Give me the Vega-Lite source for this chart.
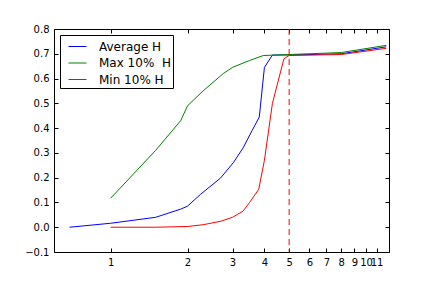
{
  "$schema": "https://vega.github.io/schema/vega-lite/v6.json",
  "width": 335,
  "height": 223,
  "autosize": "none",
  "padding": {"left": 54, "top": 29, "right": 43, "bottom": 36},
  "background": "white",
  "config": {
    "font": "DejaVu Sans",
    "view": {"stroke": "black", "strokeWidth": 1},
    "axis": {"grid": false, "domain": false, "tickColor": "black", "labelColor": "black", "labelFontSize": 10, "labelFont": "DejaVu Sans", "title": null, "labelOverlap": false}
  },
  "datasets": {
    "series": [
      {"x": 0.69, "y": 0.0, "s": "Average H"},
      {"x": 1.0, "y": 0.016, "s": "Average H"},
      {"x": 1.5, "y": 0.04, "s": "Average H"},
      {"x": 1.88, "y": 0.073, "s": "Average H"},
      {"x": 2.0, "y": 0.085, "s": "Average H"},
      {"x": 2.25, "y": 0.133, "s": "Average H"},
      {"x": 2.69, "y": 0.198, "s": "Average H"},
      {"x": 3.02, "y": 0.26, "s": "Average H"},
      {"x": 3.3, "y": 0.32, "s": "Average H"},
      {"x": 3.58, "y": 0.39, "s": "Average H"},
      {"x": 3.82, "y": 0.445, "s": "Average H"},
      {"x": 4.0, "y": 0.645, "s": "Average H"},
      {"x": 4.3, "y": 0.695, "s": "Average H"},
      {"x": 5.0, "y": 0.695, "s": "Average H"},
      {"x": 8.0, "y": 0.70, "s": "Average H"},
      {"x": 12.0, "y": 0.728, "s": "Average H"},
      {"x": 1.0, "y": 0.117, "s": "Max 10% \u00a0H"},
      {"x": 1.5, "y": 0.31, "s": "Max 10% \u00a0H"},
      {"x": 1.88, "y": 0.43, "s": "Max 10% \u00a0H"},
      {"x": 2.0, "y": 0.49, "s": "Max 10% \u00a0H"},
      {"x": 2.3, "y": 0.55, "s": "Max 10% \u00a0H"},
      {"x": 2.76, "y": 0.62, "s": "Max 10% \u00a0H"},
      {"x": 3.0, "y": 0.645, "s": "Max 10% \u00a0H"},
      {"x": 3.5, "y": 0.673, "s": "Max 10% \u00a0H"},
      {"x": 3.96, "y": 0.693, "s": "Max 10% \u00a0H"},
      {"x": 5.0, "y": 0.697, "s": "Max 10% \u00a0H"},
      {"x": 8.0, "y": 0.705, "s": "Max 10% \u00a0H"},
      {"x": 12.0, "y": 0.734, "s": "Max 10% \u00a0H"},
      {"x": 1.0, "y": 0.0, "s": "Min 10% H"},
      {"x": 1.5, "y": 0.0, "s": "Min 10% H"},
      {"x": 2.0, "y": 0.003, "s": "Min 10% H"},
      {"x": 2.3, "y": 0.01, "s": "Min 10% H"},
      {"x": 2.7, "y": 0.024, "s": "Min 10% H"},
      {"x": 3.0, "y": 0.04, "s": "Min 10% H"},
      {"x": 3.3, "y": 0.065, "s": "Min 10% H"},
      {"x": 3.5, "y": 0.1, "s": "Min 10% H"},
      {"x": 3.8, "y": 0.153, "s": "Min 10% H"},
      {"x": 4.0, "y": 0.27, "s": "Min 10% H"},
      {"x": 4.3, "y": 0.5, "s": "Min 10% H"},
      {"x": 4.77, "y": 0.68, "s": "Min 10% H"},
      {"x": 5.0, "y": 0.693, "s": "Min 10% H"},
      {"x": 8.0, "y": 0.697, "s": "Min 10% H"},
      {"x": 12.0, "y": 0.722, "s": "Min 10% H"}
    ],
    "marker": [{"x": 5}]
  },
  "layer": [
    {
      "data": {"name": "series"},
      "mark": {"type": "line", "strokeWidth": 1, "clip": true},
      "encoding": {
        "x": {"field": "x", "type": "quantitative",
              "scale": {"type": "log", "domain": [0.6, 12.3], "nice": false},
              "axis": {"orient": "bottom", "values": [1,2,3,4,5,6,7,8,9,10,11], "format": "d", "tickSize": -4, "labelPadding": 9, "labelOverlap": false}},
        "y": {"field": "y", "type": "quantitative",
              "scale": {"domain": [-0.1, 0.8], "nice": false, "zero": false},
              "axis": {"orient": "left", "values": [-0.1,0,0.1,0.2,0.3,0.4,0.5,0.6,0.7,0.8], "format": ".1f", "tickSize": -4, "labelPadding": 9, "labelOverlap": false}},
        "color": {"field": "s", "type": "nominal",
                  "scale": {"domain": ["Average H", "Max 10% \u00a0H", "Min 10% H"], "range": ["#0000ff", "#008000", "#ff0000"]},
                  "legend": {"title": null, "orient": "none", "legendX": 6, "legendY": 6, "symbolType": "stroke", "symbolSize": 324, "symbolStrokeWidth": 1, "symbolOffset": 6, "labelFontSize": 12, "labelFont": "DejaVu Sans", "labelColor": "black", "labelOffset": 12, "padding": 2, "rowPadding": 0.5, "strokeColor": "black", "fillColor": "white", "cornerRadius": 0}}
      }
    },
    {
      "data": {"name": "marker"},
      "mark": {"type": "rule", "color": "#ff0000", "strokeWidth": 1, "strokeDash": [6, 4]},
      "encoding": {
        "x": {"field": "x", "type": "quantitative",
              "axis": {"orient": "top", "values": [1,2,3,4,5,6,7,8,9,10,11], "labels": false, "tickSize": -4}}
      }
    },
    {
      "data": {"name": "series"},
      "mark": {"type": "point", "opacity": 0},
      "encoding": {
        "x": {"field": "x", "type": "quantitative", "axis": null},
        "y": {"field": "y", "type": "quantitative",
              "axis": {"orient": "right", "values": [-0.1,0,0.1,0.2,0.3,0.4,0.5,0.6,0.7,0.8], "labels": false, "tickSize": -4}}
      }
    }
  ],
  "resolve": {"axis": {"x": "independent", "y": "independent"}}
}
